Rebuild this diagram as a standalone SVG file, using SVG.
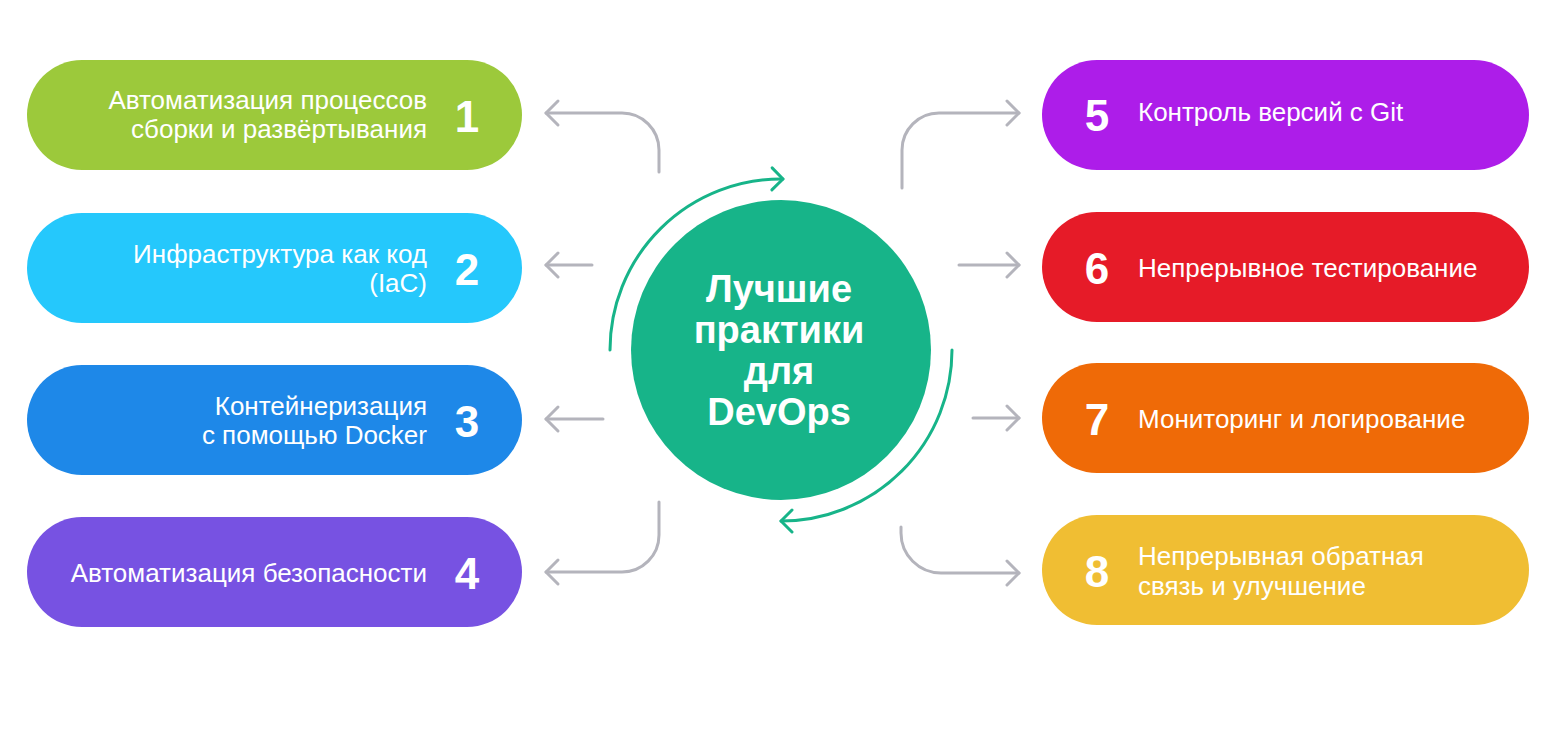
<svg xmlns="http://www.w3.org/2000/svg" width="1560" height="734" viewBox="0 0 1560 734">
<style>
.lbl{font-family:"Liberation Sans",Arial,sans-serif;font-size:26px;fill:#ffffff}
.l{text-anchor:end}
.num{font-family:"Liberation Sans",Arial,sans-serif;font-size:44px;font-weight:bold;fill:#ffffff;text-anchor:middle}
.title{font-family:"Liberation Sans",Arial,sans-serif;font-size:38px;font-weight:bold;fill:#ffffff;text-anchor:middle}
.con{fill:none;stroke:#b4b4bc;stroke-width:3;stroke-linecap:round;marker-end:url(#ag)}
.cyc{fill:none;stroke:#17b489;stroke-width:3;stroke-linecap:round;marker-end:url(#agr)}
</style>
<defs>
<marker id="ag" markerUnits="userSpaceOnUse" markerWidth="30" markerHeight="30" refX="15" refY="15" orient="auto" overflow="visible">
<path d="M3 3 L15 15 L3 27" fill="none" stroke="#b4b4bc" stroke-width="3" stroke-linecap="round" stroke-linejoin="round"/>
</marker>
<marker id="agr" markerUnits="userSpaceOnUse" markerWidth="30" markerHeight="30" refX="15" refY="15" orient="auto" overflow="visible">
<path d="M4 4 L15 15 L4 26" fill="none" stroke="#17b489" stroke-width="3" stroke-linecap="round" stroke-linejoin="round"/>
</marker>
</defs>
<rect width="1560" height="734" fill="#ffffff"/>

<g id="connectors">
<path class="con" d="M659 172 V150 A37 37 0 0 0 622 113 H546"/>
<path class="con" d="M592 265 H546"/>
<path class="con" d="M603 419 H546"/>
<path class="con" d="M659 502 V535 A37 37 0 0 1 622 572 H546"/>
<path class="con" d="M902 188 V150 A37 37 0 0 1 939 113 H1019"/>
<path class="con" d="M959 265 H1019"/>
<path class="con" d="M973 418 H1019"/>
<path class="con" d="M901 527 V533 A40 40 0 0 0 941 573 H1019"/>
<path class="cyc" d="M610 350 A171 171 0 0 1 783 179"/>
<path class="cyc" d="M952 350 A171 171 0 0 1 781 521"/>
</g>

<g id="center">
<circle cx="781" cy="350" r="150" fill="#17b489"/>
<text class="title" x="779" y="302">Лучшие</text>
<text class="title" x="779" y="343">практики</text>
<text class="title" x="779" y="384">для</text>
<text class="title" x="779" y="425">DevOps</text>
</g>

<g id="n1">
<rect x="27" y="60" width="495" height="110" rx="55" fill="#9cc93b"/>
<text class="lbl l" x="427" y="109">Автоматизация процессов</text>
<text class="lbl l" x="427" y="138">сборки и развёртывания</text>
<text class="num" x="467" y="132">1</text>
</g>
<g id="n2">
<rect x="27" y="213" width="495" height="110" rx="55" fill="#25c8fc"/>
<text class="lbl l" x="427" y="263">Инфраструктура как код</text>
<text class="lbl l" x="427" y="292">(IaC)</text>
<text class="num" x="467" y="285">2</text>
</g>
<g id="n3">
<rect x="27" y="365" width="495" height="110" rx="55" fill="#1e88e8"/>
<text class="lbl l" x="427" y="415">Контейнеризация</text>
<text class="lbl l" x="427" y="444">с помощью Docker</text>
<text class="num" x="467" y="437">3</text>
</g>
<g id="n4">
<rect x="27" y="517" width="495" height="110" rx="55" fill="#7752e2"/>
<text class="lbl l" x="427" y="582">Автоматизация безопасности</text>
<text class="num" x="467" y="589">4</text>
</g>

<g id="n5">
<rect x="1042" y="60" width="487" height="110" rx="55" fill="#ad1de9"/>
<text class="num" x="1097" y="131">5</text>
<text class="lbl" x="1138" y="121">Контроль версий с Git</text>
</g>
<g id="n6">
<rect x="1042" y="212" width="487" height="110" rx="55" fill="#e61b28"/>
<text class="num" x="1097" y="284">6</text>
<text class="lbl" x="1138" y="277">Непрерывное тестирование</text>
</g>
<g id="n7">
<rect x="1042" y="363" width="487" height="110" rx="55" fill="#ef6a07"/>
<text class="num" x="1097" y="435">7</text>
<text class="lbl" x="1138" y="428">Мониторинг и логирование</text>
</g>
<g id="n8">
<rect x="1042" y="515" width="487" height="110" rx="55" fill="#f0be33"/>
<text class="num" x="1097" y="587">8</text>
<text class="lbl" x="1138" y="565">Непрерывная обратная</text>
<text class="lbl" x="1138" y="595">связь и улучшение</text>
</g>
</svg>
